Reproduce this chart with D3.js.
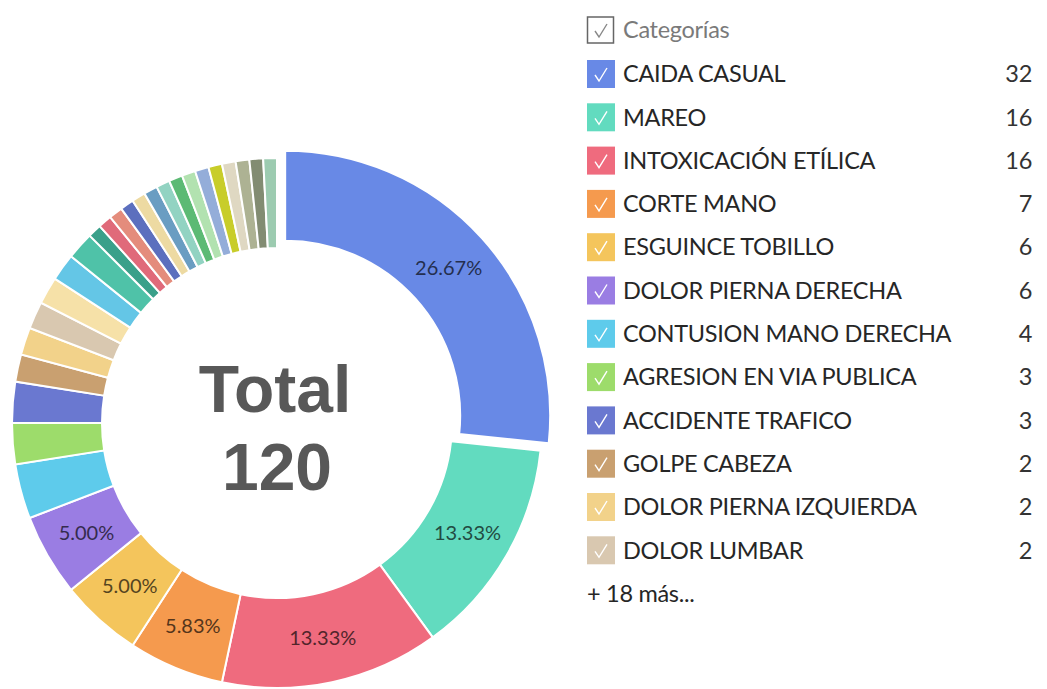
<!DOCTYPE html>
<html>
<head>
<meta charset="utf-8">
<script src="https://cdn.jsdelivr.net/npm/d3@7"></script>
<style>
  body { margin: 0; background: #fff; }
  svg { display: block; font-family: Lato, "Open Sans", sans-serif; }
</style>
</head>
<body>
<svg width="1047" height="689"></svg>
<script>

// visible categories (the legend shows these ones)
let categories = [
    'CAIDA CASUAL', 'MAREO', 'INTOXICACIÓN ETÍLICA', 'CORTE MANO',
    'ESGUINCE TOBILLO', 'DOLOR PIERNA DERECHA', 'CONTUSION MANO DERECHA',
    'AGRESION EN VIA PUBLICA', 'ACCIDENTE TRAFICO', 'GOLPE CABEZA',
    'DOLOR PIERNA IZQUIERDA', 'DOLOR LUMBAR'
];
let values = [32, 16, 16, 7, 6, 6, 4, 3, 3, 2, 2, 2];

// the "+ 18 más..." categories, only seen as thin slices
let otherValues = [2, 2, 2, 1, 1, 1, 1, 1, 1, 1, 1, 1, 1, 1, 1, 1, 1, 1];

let colors = [
    '#6889e6', '#62dbbf', '#ef6b7e', '#f59a4e', '#f4c55c', '#9a7de3',
    '#5ecbeb', '#9ddc6b', '#6a78d0', '#c9a070', '#f2d28a', '#d9c8b0',
    // others
    '#f6e1a8', '#64c6e6', '#4fc2a8', '#3aa08a', '#e06a7a', '#e48c7c',
    '#5c6fbe', '#eddaa2', '#6a9dc2', '#92d3c2', '#5cba74', '#b2e2b0',
    '#94add9', '#c8cd2a', '#dfd8c2', '#adb293', '#828c72', '#9ccbb0'
];

let width = 1047;
let height = 689;

let cx = 277, cy = 423;
let outerR = 265, innerR = 175;
let explode = 11;

let allValues = values.concat(otherValues);
let total = d3.sum(allValues);

let slices = allValues.map(function(v, i) {
    return { name: categories[i] || ('otra ' + (i - categories.length + 1)), value: v, color: colors[i] };
});

var svg = d3.select("svg");

var pie = d3.pie()
    .sort(null)
    .value(function(d) { return d.value; });

var arc = d3.arc()
    .innerRadius(innerR)
    .outerRadius(outerR);

var labelArc = d3.arc()
    .innerRadius((innerR + outerR) / 2)
    .outerRadius((innerR + outerR) / 2);

var pct = d3.format(".2%");

var donut = svg.append("g")
    .attr("transform", "translate(" + cx + "," + cy + ")");

var arcs = pie(slices);

// first slice is pulled out a bit (selected)
function offset(d, i) {
    if (i != 0) return "translate(0,0)";
    var a = (d.startAngle + d.endAngle) / 2;
    return "translate(" + (Math.sin(a) * explode) + "," + (-Math.cos(a) * explode) + ")";
}

var slice = donut.selectAll("g.slice")
    .data(arcs)
    .enter().append("g")
    .attr("class", "slice")
    .attr("transform", offset);

slice.append("path")
    .attr("d", arc)
    .attr("fill", function(d) { return d.data.color; })
    .attr("stroke", "#fff")
    .attr("stroke-width", 2);

slice.filter(function(d) { return d.value / total >= 0.05; })
    .append("text")
    .attr("transform", function(d) { return "translate(" + labelArc.centroid(d) + ")"; })
    .attr("text-anchor", "middle")
    .attr("dy", "0.35em")
    .style("font-size", "20px")
    .attr("fill", function(d) { return d3.color(d.data.color).darker(3); })
    .text(function(d) { return pct(d.value / total); });

// total in the hole
var centre = donut.append("g")
    .style("font-family", "'Liberation Sans', Arial, sans-serif")
    .style("font-weight", "bold")
    .style("font-size", "66px")
    .attr("fill", "#585858")
    .attr("text-anchor", "middle");

centre.append("text").attr("x", -2).attr("y", -11).text("Total");
centre.append("text").attr("x", 0).attr("y", 67).text(total);

/** legend **/

let legendX = 587;
let headerY = 30;
let rowY = 74;
let rowH = 43.3;
let box = 28;

function check(g, colour) {
    g.append("path")
        .attr("d", "M" + (-6) + "," + 0 + " L" + (-2) + "," + 6 + " L" + 6 + "," + (-7))
        .attr("fill", "none")
        .attr("stroke", colour)
        .attr("stroke-width", 1.4);
}

var legend = svg.append("g")
    .attr("transform", "translate(" + legendX + ",0)")
    .style("font-size", "23.5px")
    .style("letter-spacing", "-0.3px");

var header = legend.append("g")
    .attr("transform", "translate(0," + headerY + ")");

header.append("rect")
    .attr("x", 0.5).attr("y", -box / 2 + 1)
    .attr("width", box - 2).attr("height", box - 2)
    .attr("fill", "#fff")
    .attr("stroke", "#666")
    .attr("stroke-width", 1.5);

check(header.append("g").attr("transform", "translate(" + (box / 2) + ",1)"), "#888");

header.append("text")
    .attr("x", 36)
    .attr("dy", "0.35em")
    .attr("fill", "#7a7a7a")
    .text("Categorías");

var row = legend.selectAll("g.row")
    .data(slices.slice(0, categories.length))
    .enter().append("g")
    .attr("class", "row")
    .attr("transform", function(d, i) { return "translate(0," + (rowY + i * rowH) + ")"; });

row.append("rect")
    .attr("x", 0).attr("y", -box / 2)
    .attr("width", box).attr("height", box)
    .attr("fill", function(d) { return d.color; });

row.each(function() {
    check(d3.select(this).append("g").attr("transform", "translate(" + (box / 2) + ",1)"), "#fff");
});

row.append("text")
    .attr("x", 36)
    .attr("dy", "0.35em")
    .attr("fill", "#262626")
    .text(function(d) { return d.name; });

row.append("text")
    .attr("x", 1032 - legendX)
    .attr("dy", "0.35em")
    .attr("text-anchor", "end")
    .attr("fill", "#333")
    .text(function(d) { return d.value; });

legend.append("text")
    .attr("x", 0)
    .attr("y", rowY + categories.length * rowH)
    .attr("dy", "0.35em")
    .attr("fill", "#262626")
    .text("+ " + otherValues.length + " más...");

</script>
</body>
</html>
